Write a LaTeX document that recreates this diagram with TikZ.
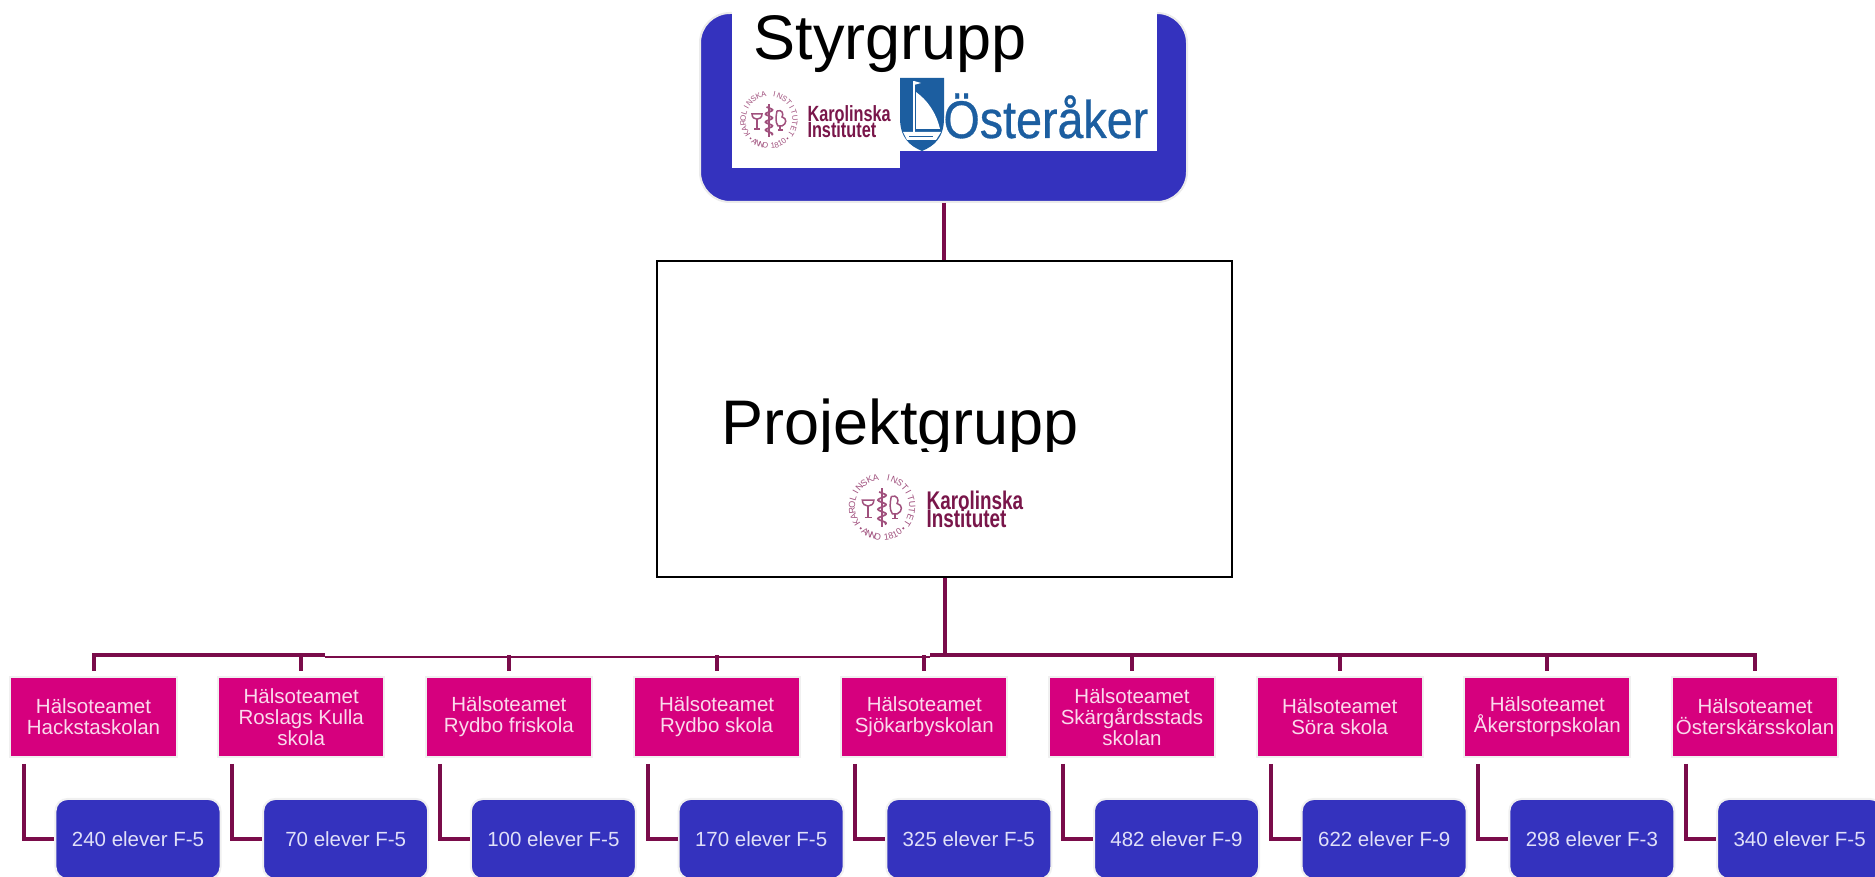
\documentclass[tikz,border=0pt]{standalone}
\usepackage{fontspec}
\setmainfont{Liberation Sans}
\newfontfamily\kifont[FakeStretch=0.74]{Liberation Sans}
\newfontfamily\ostfont[FakeStretch=0.88,FakeBold=0.6]{Liberation Sans}
\definecolor{boxblue}{RGB}{52,50,190}
\definecolor{boxpink}{RGB}{214,0,126}
\definecolor{connc}{RGB}{122,12,74}
\definecolor{kiplum}{RGB}{121,22,74}
\definecolor{sealc}{RGB}{160,80,125}
\definecolor{ostblue}{RGB}{28,94,160}
\definecolor{pinktxt}{RGB}{250,218,236}
\definecolor{bluetxt}{RGB}{224,224,248}
\tikzset{
  conn/.style={draw=connc,line width=1.6pt},
  connthin/.style={draw=connc,line width=0.8pt},
  pinkbox/.style={fill=boxpink,draw=black!6,line width=0.8pt,minimum width=66.4pt,minimum height=32pt,
    align=center,inner sep=1pt,text=pinktxt,font=\fontsize{8.2}{8.5}\selectfont},
  bluebox/.style={fill=boxblue,draw=black!6,line width=0.8pt,rounded corners=4.8pt,minimum width=66pt,minimum height=32pt,
    inner sep=1pt,text=bluetxt,font=\fontsize{8.2}{10}\selectfont},
  bigtxt/.style={inner sep=0pt,font=\fontsize{25.2}{30}\selectfont},
  ringtxt/.style={inner sep=0pt,text=sealc,font=\fontsize{3.1}{3.3}\selectfont},
  kitxt/.style={inner sep=0pt,text=kiplum,font={\kifont\bfseries\fontsize{8.8}{9}\selectfont}},
  osttxt/.style={inner sep=0pt,text=ostblue,font={\ostfont\fontsize{21.2}{24}\selectfont}}
}
\newcommand\KIlogo[4]{%
\begin{scope}[shift={(#1,#2)},scale=#3,transform shape]
  \foreach \ch [count=\k from 0] in {K,A,R,O,L,I,N,S,K,A,{},I,N,S,T,I,T,U,T,E,T}{
    \pgfmathsetmacro\ang{212-12.2*\k}
    \node[ringtxt,rotate=\ang-90] (#4t\k) at (\ang:26) {\ch};}
  \foreach \ch [count=\k from 0] in {A,N,N,O,{},1,8,1,0}{
    \pgfmathsetmacro\ang{236+8.5*\k}
    \node[ringtxt,rotate=\ang+90] (#4b\k) at (\ang:26) {\ch};}
  \fill[sealc] (225:26) circle (1);
  \fill[sealc] (315:26) circle (1);
  % emblem
  \draw[sealc,line width=0.6pt] (0,-17) -- (0,16);
  \draw[sealc,line width=0.7pt] plot[domain=-15:13,samples=40] ({3.5*sin(\x*45)},\x);
  \draw[sealc,line width=0.6pt] (-17,6) .. controls (-17,-1) and (-7,-1) .. (-7,6) -- cycle;
  \draw[sealc,line width=0.6pt] (-12,1) -- (-12,-9) (-15,-9) -- (-9,-9);
  \draw[sealc,line width=0.6pt] (8,9) .. controls (13,11) and (15,6) .. (13,3) .. controls (18,2) and (18,-4) .. (13,-6) -- (9,-6) .. controls (6,-2) and (7,4) .. (8,9);
  \draw[sealc,line width=0.6pt] (11,-6) -- (11,-10) (9,-10) -- (14,-10);
  \node[kitxt,anchor=base west] (#4k) at (38,-2) {Karolinska};
  \node[kitxt,anchor=base west] (#4i) at (38,-18) {Institutet};
\end{scope}}
\begin{document}
\begin{tikzpicture}[x=0.4pt,y=0.4pt]
\useasboundingbox (0,0) rectangle (1875,-877);
\fill[white] (0,0) rectangle (1875,-877);
% Styrgrupp
\node[fill=boxblue,draw=black!8,line width=0.8pt,rounded corners=12pt,minimum width=194.8pt,minimum height=75.6pt,inner sep=0pt] (S) at (943.5,-107.5) {};
\fill[white] (732,0) rectangle (1157,-78);
\fill[white] (732,-77) rectangle (900,-168);
\fill[white] (899,-77) rectangle (1157,-151);
\node[bigtxt,anchor=base west] (st) at (753,-60) {Styrgrupp};
\KIlogo{769}{-120}{1}{sa}
% Osteraker logo
\fill[ostblue] (900,-78) -- (944,-78) -- (944,-118) .. controls (944,-138) and (934,-146) .. (922,-151) .. controls (910,-146) and (900,-138) .. (900,-118) -- cycle;
\fill[white] (916,-92) -- (916,-129) -- (940,-129) .. controls (936,-112) and (927,-100) .. (916,-92) -- cycle;
\draw[white,line width=0.6pt] (914,-81) -- (914,-133);
\fill[white] (914,-81) -- (921,-83) -- (914,-85) -- cycle;
\fill[white] (903,-132) -- (941,-132) -- (936,-140) -- (907,-140) -- cycle;
\draw[ostblue,line width=0.3pt] (909,-136) -- (933,-136);
\node[osttxt,anchor=base west] (ot) at (943,-138) {Österåker};
% Projektgrupp
\node[draw=black,line width=0.8pt,fill=white,minimum width=230pt,minimum height=126.4pt,inner sep=0pt] (P) at (944.5,-419) {};
\node[bigtxt,anchor=base west] (pt) at (721,-445) {Projektgrupp};
\fill[white] (735,-452) rectangle (1095,-470);
\KIlogo{882}{-507}{1.16}{pa}
\draw[conn] (S.south) -- (S.south |- P.north);
% bottom row
\foreach \i/\ta/\tb in {1/{Hälsoteamet\\Hackstaskolan}/240 elever F-5,
  2/{Hälsoteamet\\Roslags Kulla\\skola}/70 elever F-5,
  3/{Hälsoteamet\\Rydbo friskola}/100 elever F-5,
  4/{Hälsoteamet\\Rydbo skola}/170 elever F-5,
  5/{Hälsoteamet\\Sjökarbyskolan}/325 elever F-5,
  6/{Hälsoteamet\\Skärgårdsstads\\skolan}/482 elever F-9,
  7/{Hälsoteamet\\Söra skola}/622 elever F-9,
  8/{Hälsoteamet\\Åkerstorpskolan}/298 elever F-3,
  9/{Hälsoteamet\\Österskärsskolan}/340 elever F-5}{
  \pgfmathsetmacro\cx{93.5+207.7*(\i-1)}
  \node[pinkbox] (h\i) at (\cx,-717) {\ta};
  \node[bluebox] (b\i) at (\cx+44.5,-839) {\tb};
  \draw[conn,shorten <=2.4pt] ([xshift=6pt]h\i.south west) |- (b\i.west);
}
% bus
\coordinate (busy) at (0,-655);
\coordinate (t1) at (325,-655);
\coordinate (t2) at (930,-655);
\draw[conn] (P.south) -- (P.south |- busy);
\draw[conn,shorten <=2pt] (h1.north) |- (t1);
\draw[connthin] ([yshift=-1pt]t1) -- ([yshift=-1pt]t2);
\draw[conn,shorten >=2pt] (t2) -| (h9.north);
\foreach \i in {2,...,8}{
  \draw[conn,shorten <=2pt] (h\i.north) -- (h\i.north |- busy);
}
\end{tikzpicture}
\end{document}
